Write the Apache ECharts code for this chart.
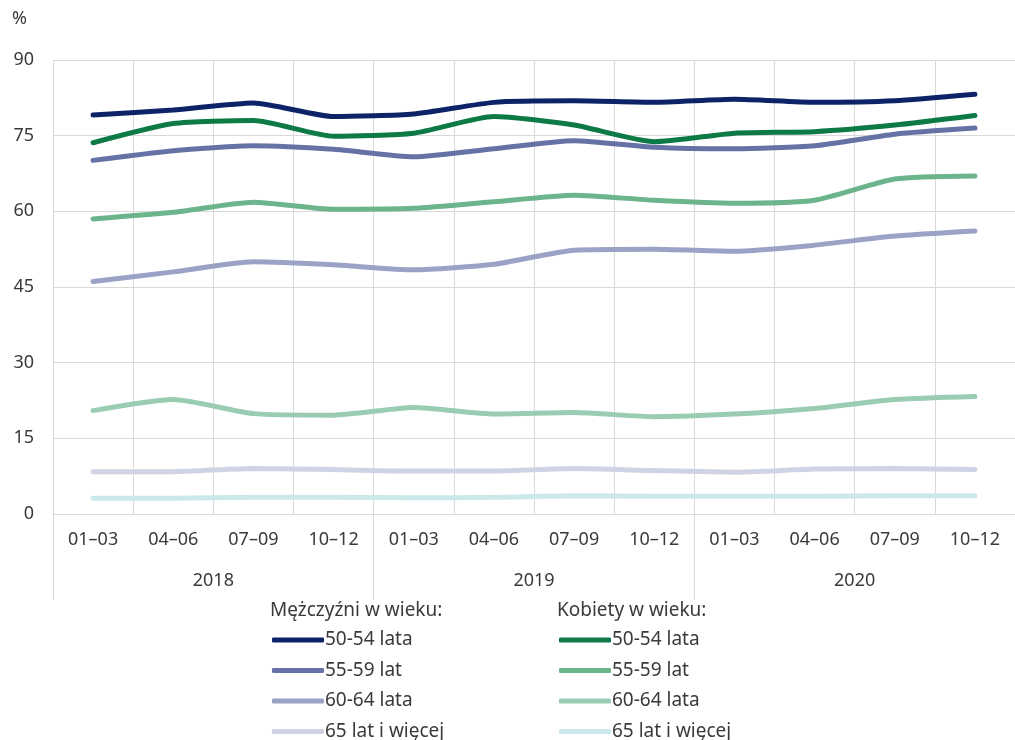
<!DOCTYPE html>
<html>
<head>
<meta charset="utf-8">
<script src="https://cdn.jsdelivr.net/npm/echarts@6/dist/echarts.min.js"></script>
<style>
  html, body { margin: 0; padding: 0; background: #fff; }
  #chart { width: 1015px; height: 740px; }
</style>
</head>
<body>
<div id="chart"></div>
<script>
// quarters and years
var quarters = ['01–03', '04–06', '07–09', '10–12', '01–03', '04–06', '07–09', '10–12', '01–03', '04–06', '07–09', '10–12'];
var years = ['2018', '2019', '2020'];

// men
var men5054 = [79.1, 80.1, 81.5, 78.8, 79.3, 81.6, 81.9, 81.6, 82.2, 81.6, 81.9, 83.2];
var men5559 = [70.1, 72.0, 73.0, 72.3, 70.8, 72.4, 74.0, 72.7, 72.4, 73.0, 75.3, 76.5];
var men6064 = [46.1, 48.0, 50.0, 49.4, 48.4, 49.5, 52.3, 52.5, 52.1, 53.3, 55.1, 56.1];
var men65 = [8.4, 8.4, 9.0, 8.8, 8.5, 8.5, 9.0, 8.6, 8.3, 8.9, 9.0, 8.8];

// women
var women5054 = [73.6, 77.4, 78.0, 74.9, 75.5, 78.8, 77.1, 73.8, 75.5, 75.8, 77.1, 79.0];
var women5559 = [58.5, 59.8, 61.8, 60.4, 60.6, 61.9, 63.2, 62.2, 61.6, 62.2, 66.4, 67.0];
var women6064 = [20.5, 22.7, 19.9, 19.6, 21.1, 19.8, 20.1, 19.3, 19.8, 20.9, 22.7, 23.3];
var women65 = [3.1, 3.1, 3.3, 3.3, 3.2, 3.3, 3.6, 3.5, 3.5, 3.5, 3.6, 3.6];

var names = ['50-54 lata', '55-59 lat', '60-64 lata', '65 lat i więcej'];
var menColors = ['#0c2368', '#6672a6', '#9aa3c6', '#d0d3e3'];
var womenColors = ['#0d7a45', '#6cb48c', '#99ccb2', '#cbe8ea'];
var menData = [men5054, men5559, men6064, men65];
var womenData = [women5054, women5559, women6064, women65];

var font = 'Noto Sans';
var textColor = '#3a3a3a';
var gridColor = '#d9d9d9';

var series = [];
var menIds = [], womenIds = [];
for (var i = 0; i < 4; i++) {
    var idM = 'm' + i, idW = 'w' + i;
    menIds.push({ name: idM });
    womenIds.push({ name: idW });
    series.push({ name: idM, type: 'line', data: menData[i], symbol: 'none', smooth: 0.2,
        lineStyle: { width: 5, color: menColors[i], cap: 'round' }, itemStyle: { color: menColors[i] }, z: 10 - i });
    series.push({ name: idW, type: 'line', data: womenData[i], symbol: 'none', smooth: 0.2,
        lineStyle: { width: 5, color: womenColors[i], cap: 'round' }, itemStyle: { color: womenColors[i] }, z: 10 - i });
}

var dom = document.getElementById('chart');
var myChart = echarts.init(dom, null, { renderer: 'canvas' });

function legendFor(ids, left) {
    return {
        orient: 'vertical',
        left: left,
        top: 630,
        height: 140,
        padding: 0,
        data: ids,
        icon: 'roundRect',
        itemWidth: 52,
        itemHeight: 5,
        itemGap: 10.5,
        selectedMode: false,
        formatter: function (n) { return names[+n.slice(1)]; },
        textStyle: { fontFamily: font, fontSize: 19, color: textColor, lineHeight: 20, padding: [0, 0, 0, -4] }
    };
}

var option = {
    animation: false,
    textStyle: { fontFamily: font },
    grid: { left: 53, top: 60, width: 969, height: 454, containLabel: false },
    graphic: [
        { type: 'text', left: 12, top: 10, style: { text: '%', font: '18px "Noto Sans"', fill: textColor } },
        { type: 'text', left: 270, top: 601, style: { text: 'Mężczyźni w wieku:', font: '19px "Noto Sans"', fill: textColor } },
        { type: 'text', left: 557, top: 601, style: { text: 'Kobiety w wieku:', font: '19px "Noto Sans"', fill: textColor } }
    ],
    legend: [legendFor(menIds, 272), legendFor(womenIds, 559)],
    xAxis: [
        {
            type: 'category',
            data: quarters,
            boundaryGap: true,
            axisLine: { show: true, lineStyle: { color: gridColor } },
            axisTick: { show: false },
            splitLine: { show: true, interval: 0, lineStyle: { color: gridColor } },
            axisLabel: { interval: 0, margin: 17, fontSize: 18, color: textColor, fontFamily: font }
        },
        {
            type: 'category',
            data: years,
            position: 'bottom',
            boundaryGap: true,
            axisLine: { show: false },
            axisTick: { show: true, length: 86, lineStyle: { color: gridColor } },
            axisLabel: { margin: 58, fontSize: 18, color: textColor, fontFamily: font },
            splitLine: { show: false }
        }
    ],
    yAxis: {
        type: 'value',
        min: 0,
        max: 90,
        interval: 15,
        axisLine: { show: false },
        axisTick: { show: false },
        splitLine: { show: true, lineStyle: { color: gridColor } },
        axisLabel: { margin: 19, fontSize: 18, color: textColor, fontFamily: font }
    },
    series: series
};

myChart.setOption(option);
window.addEventListener('resize', myChart.resize);
</script>
</body>
</html>
